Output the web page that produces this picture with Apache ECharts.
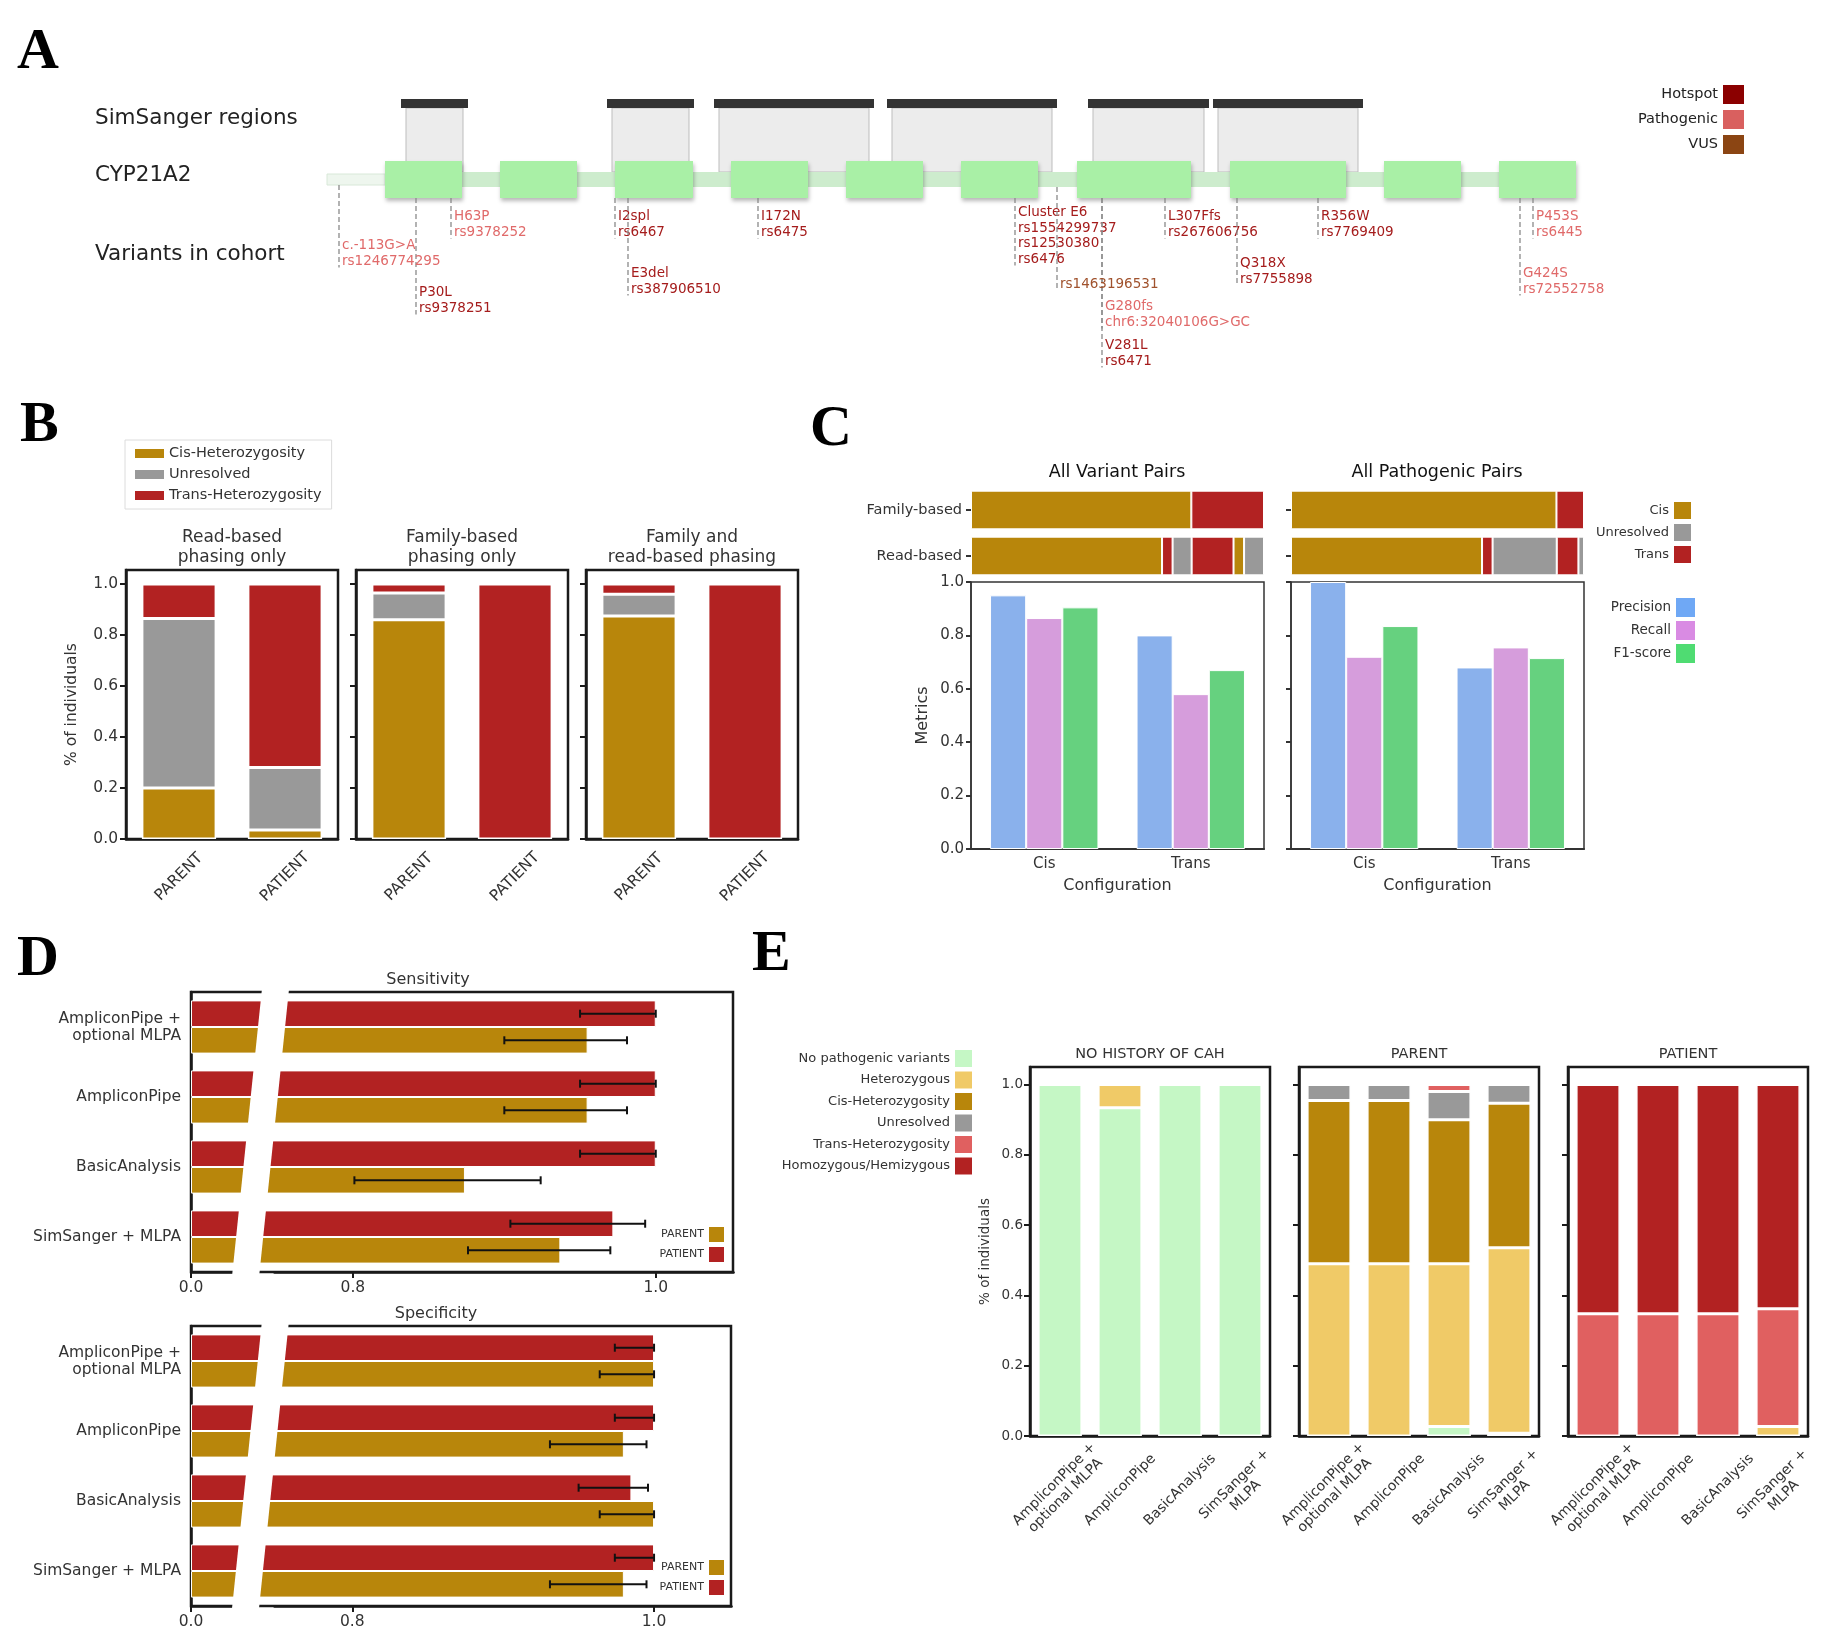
<!DOCTYPE html>
<html>
<head>
<meta charset="utf-8">
<script src="https://cdn.jsdelivr.net/npm/echarts@6/dist/echarts.min.js"></script>
<style>
html, body { margin: 0; padding: 0; background: #fff; }
#chart { width: 1825px; height: 1643px; }
</style>
</head>
<body>
<div id="chart"></div>
<script>
// ---------- data ----------
// A: CYP21A2 gene model, positions in plot units along the gene
const exonStarts = [58, 173, 288, 404, 519, 634, 750, 903, 1057, 1172];
const exonEnds = [135, 250, 366, 481, 596, 711, 864, 1019, 1134, 1249];
const utrStart = 0;
const simSangerStarts = [74, 280, 387, 560, 761, 886];
const simSangerEnds = [141, 367, 547, 730, 882, 1036];
const variantLabels = [
  'c.-113G>A\nrs1246774295', 'P30L\nrs9378251', 'H63P\nrs9378252', 'I2spl\nrs6467',
  'E3del\nrs387906510', 'I172N\nrs6475', 'Cluster E6\nrs1554299737\nrs12530380\nrs6476',
  'rs1463196531', 'G280fs\nchr6:32040106G>GC', 'V281L\nrs6471', 'L307Ffs\nrs267606756',
  'Q318X\nrs7755898', 'R356W\nrs7769409', 'P453S\nrs6445', 'G424S\nrs72552758'
];
const variantPos = [12, 89, 124, 288, 301, 431, 688, 730, 775, 775, 838, 910, 991, 1206, 1193];
const variantClass = ['Pathogenic', 'Hotspot', 'Pathogenic', 'Hotspot', 'Hotspot', 'Hotspot', 'Hotspot',
  'VUS', 'Pathogenic', 'Hotspot', 'Hotspot', 'Hotspot', 'Hotspot', 'Pathogenic', 'Pathogenic'];
const variantClasses = ['Hotspot', 'Pathogenic', 'VUS'];

// B: phasing outcome
const bPanels = ['Read-based\nphasing only', 'Family-based\nphasing only', 'Family and\nread-based phasing'];
const bGroups = ['PARENT', 'PATIENT'];
const bCis = [[0.20, 0.035], [0.86, 0], [0.875, 0]];
const bUnresolved = [[0.665, 0.245], [0.105, 0], [0.085, 0]];
const bTrans = [[0.135, 0.72], [0.035, 1.0], [0.04, 1.0]];

// C: phasing accuracy
const cPanels = ['All Variant Pairs', 'All Pathogenic Pairs'];
const cRows = ['Read-based', 'Family-based'];
const cReadClass = [['Cis', 'Trans', 'Unresolved', 'Trans', 'Cis', 'Unresolved'],
                    ['Cis', 'Trans', 'Unresolved', 'Trans', 'Unresolved']];
const cReadShare = [[0.652, 0.036, 0.065, 0.143, 0.036, 0.068],
                    [0.652, 0.036, 0.219, 0.074, 0.019]];
const cFamilyShare = [[0.752, 0.248], [0.906, 0.094]];
const cConfigs = ['Cis', 'Trans'];
const cPrecision = [[0.95, 0.80], [1.0, 0.68]];
const cRecall = [[0.865, 0.58], [0.72, 0.755]];
const cF1 = [[0.905, 0.67], [0.835, 0.715]];

// D: sensitivity / specificity
const dMethods = ['AmpliconPipe +\noptional MLPA', 'AmpliconPipe', 'BasicAnalysis', 'SimSanger + MLPA'];
const sensPatient = [1.0, 1.0, 1.0, 0.972];
const sensPatientLow = [0.95, 0.95, 0.95, 0.904];
const sensPatientHigh = [1.0, 1.0, 1.0, 0.993];
const sensParent = [0.955, 0.955, 0.874, 0.937];
const sensParentLow = [0.900, 0.900, 0.801, 0.876];
const sensParentHigh = [0.981, 0.981, 0.924, 0.970];
const specPatient = [1.0, 1.0, 0.985, 1.0];
const specPatientLow = [0.974, 0.974, 0.950, 0.974];
const specPatientHigh = [1.0, 1.0, 0.996, 1.0];
const specParent = [1.0, 0.980, 1.0, 0.980];
const specParentLow = [0.964, 0.931, 0.964, 0.931];
const specParentHigh = [1.0, 0.995, 1.0, 0.995];
const dTicks = [0, 0.8, 1.0];
const dBreak = [0.037, 0.748];

// E: genotype per cohort
const eMethods = ['AmpliconPipe +\noptional MLPA', 'AmpliconPipe', 'BasicAnalysis', 'SimSanger +\nMLPA'];
const eGroups = ['NO HISTORY OF CAH', 'PARENT', 'PATIENT'];
const eNoPathogenic = [[1, 0.934, 1, 1], [0, 0, 0.027, 0.008], [0, 0, 0, 0]];
const eHeterozygous = [[0, 0.066, 0, 0], [0.49, 0.49, 0.463, 0.528], [0, 0, 0, 0.027]];
const eCisHet = [[0, 0, 0, 0], [0.465, 0.465, 0.41, 0.411], [0, 0, 0, 0]];
const eUnresolved = [[0, 0, 0, 0], [0.045, 0.045, 0.08, 0.053], [0, 0, 0, 0]];
const eTransHet = [[0, 0, 0, 0], [0, 0, 0.02, 0], [0.348, 0.348, 0.348, 0.335]];
const eHomozygous = [[0, 0, 0, 0], [0, 0, 0, 0], [0.652, 0.652, 0.652, 0.638]];
const pctTicks = [0, 0.2, 0.4, 0.6, 0.8, 1.0];

// ---------- styling ----------
const FONT = '"DejaVu Sans", sans-serif';
const INK = '#222';
const CIS = '#b8860b', UNRES = '#999999', TRANS = '#b22222';
const classColor = { Hotspot: '#8b0000', Pathogenic: '#d9605f', VUS: '#8b4513' };
const classText = { Hotspot: '#a51c1c', Pathogenic: '#e06a6a', VUS: '#a0522d' };
const cColor = { Cis: CIS, Unresolved: UNRES, Trans: TRANS };
const eNames = ['No pathogenic variants', 'Heterozygous', 'Cis-Heterozygosity', 'Unresolved', 'Trans-Heterozygosity', 'Homozygous/Hemizygous'];
const eColors = ['#c5f7c5', '#f0ca67', CIS, UNRES, '#e06060', TRANS];
const eValues = [eNoPathogenic, eHeterozygous, eCisHet, eUnresolved, eTransHet, eHomozygous];

const grids = [], xAxes = [], yAxes = [], series = [], legends = [], graphics = [];
const dash = v => (v ? v : '-');

function addGrid(g) {
  grids.push(g);
  return grids.length - 1;
}
function text(x, y, str, size, opt) {
  opt = opt || {};
  return {
    type: 'text', x: x, y: y, rotation: opt.rot || 0, silent: true, z: 50,
    style: {
      text: str, fontSize: size, fontFamily: opt.family || FONT, fontWeight: opt.weight || 'normal',
      fill: opt.color || INK, align: opt.align || 'center', verticalAlign: opt.va || 'middle',
      lineHeight: opt.lh || Math.round(size * 1.15)
    }
  };
}
function frame(extra) {
  return Object.assign({ show: true, borderColor: '#1a1a1a', borderWidth: 2.5, backgroundColor: 'transparent' }, extra);
}
const tickStyle = { color: '#1a1a1a', width: 2 };

// panel letters
[['A', 17, 20], ['B', 20, 393], ['C', 810, 397], ['D', 17, 927], ['E', 752, 922]].forEach(p => {
  graphics.push(text(p[1], p[2], p[0], 58, { family: '"Liberation Serif", "DejaVu Serif", serif', weight: 'bold', align: 'left', va: 'top', color: '#000' }));
});

// ---------- A ----------
const gA = addGrid({ left: 327, top: 80, width: 1250, height: 300, show: false });
xAxes.push({ type: 'value', gridIndex: gA, min: 0, max: 1250, show: false });
yAxes.push({ type: 'value', gridIndex: gA, min: 80, max: 380, inverse: true, show: false });
const A = { barTop: 99, barBottom: 108, boxBottom: 172, exonTop: 161, exonBottom: 198, lineTop: 172, lineBottom: 187, utrTop: 174, utrBottom: 185 };
const labelDepth = [246, 293, 217, 217, 274, 217, 213, 285, 307, 346, 217, 264, 217, 217, 274];

graphics.push(text(95, 118, 'SimSanger regions', 21.5, { align: 'left' }));
graphics.push(text(95, 175, 'CYP21A2', 21.5, { align: 'left' }));
graphics.push(text(95, 254, 'Variants in cohort', 21.5, { align: 'left' }));

series.push({
  type: 'custom', name: 'SimSanger regions', xAxisIndex: gA, yAxisIndex: gA, z: 1, silent: true,
  data: simSangerStarts.map((s, i) => [s, simSangerEnds[i]]),
  encode: { x: [0, 1] },
  renderItem: (params, api) => {
    const p0 = api.coord([api.value(0), A.barTop]);
    const p1 = api.coord([api.value(1), A.barBottom]);
    const yb = api.coord([0, A.boxBottom])[1];
    return {
      type: 'group', children: [
        { type: 'rect', shape: { x: p0[0] + 5, y: p1[1], width: p1[0] - p0[0] - 10, height: yb - p1[1] }, style: { fill: '#ececec', stroke: '#bdbdbd', lineWidth: 1 } },
        { type: 'rect', shape: { x: p0[0], y: p0[1], width: p1[0] - p0[0], height: p1[1] - p0[1] }, style: { fill: '#333' } }
      ]
    };
  }
});
series.push({
  type: 'custom', name: 'gene', xAxisIndex: gA, yAxisIndex: gA, z: 2, silent: true,
  data: [[utrStart, exonStarts[0], exonEnds[exonEnds.length - 1]]],
  encode: { x: [0, 1, 2] },
  renderItem: (params, api) => {
    const u0 = api.coord([api.value(0), A.utrTop]);
    const u1 = api.coord([api.value(1), A.utrBottom]);
    const b0 = api.coord([api.value(1), A.lineTop]);
    const b1 = api.coord([api.value(2), A.lineBottom]);
    return {
      type: 'group', children: [
        { type: 'rect', shape: { x: u0[0], y: u0[1], width: u1[0] - u0[0], height: u1[1] - u0[1] }, style: { fill: '#eef6ee', stroke: '#d8e8d8', lineWidth: 1 } },
        { type: 'rect', shape: { x: b0[0], y: b0[1], width: b1[0] - b0[0], height: b1[1] - b0[1] }, style: { fill: '#cdeccd' } }
      ]
    };
  }
});
series.push({
  type: 'custom', name: 'exons', xAxisIndex: gA, yAxisIndex: gA, z: 3, silent: true,
  data: exonStarts.map((s, i) => [s, exonEnds[i]]),
  encode: { x: [0, 1] },
  renderItem: (params, api) => {
    const p0 = api.coord([api.value(0), A.exonTop]);
    const p1 = api.coord([api.value(1), A.exonBottom]);
    return {
      type: 'rect', shape: { x: p0[0], y: p0[1], width: p1[0] - p0[0], height: p1[1] - p0[1] },
      style: { fill: '#a9f0a6', shadowBlur: 4, shadowOffsetX: 1, shadowOffsetY: 3, shadowColor: 'rgba(0,0,0,0.28)' }
    };
  }
});
function inExon(x) {
  return exonStarts.some((s, i) => x >= s && x <= exonEnds[i]);
}
variantClasses.forEach(cls => {
  const idx = variantPos.map((p, i) => i).filter(i => variantClass[i] === cls);
  series.push({
    type: 'custom', name: cls, xAxisIndex: gA, yAxisIndex: gA, z: 4, silent: true,
    itemStyle: { color: classColor[cls] },
    data: idx.map(i => [variantPos[i], labelDepth[i], i]),
    encode: { x: 0, y: 1 },
    renderItem: (params, api) => {
      const i = api.value(2);
      const x = api.coord([api.value(0), 0])[0];
      const yTop = api.coord([0, inExon(variantPos[i]) ? A.exonBottom : (variantPos[i] < exonStarts[0] ? A.utrBottom : A.lineBottom)])[1];
      const yLab = api.coord([0, api.value(1)])[1];
      const n = variantLabels[i].split('\n').length;
      return {
        type: 'group', children: [
          { type: 'line', shape: { x1: x, y1: yTop, x2: x, y2: yLab + (n - 1) * 15.5 + 6 }, style: { stroke: '#8a8a8a', lineWidth: 1.3, lineDash: [5, 3] } },
          { type: 'text', x: x + 3, y: yLab - 8, style: { text: variantLabels[i], fill: classText[cls], fontSize: 13.5, fontFamily: FONT, lineHeight: 15.5, verticalAlign: 'top', align: 'left' } }
        ]
      };
    }
  });
});
legends.push({
  right: 81, top: 85, orient: 'vertical', align: 'right', padding: 0, itemWidth: 21, itemHeight: 19, itemGap: 6,
  icon: 'rect', selectedMode: false, textStyle: { fontSize: 14.5, color: INK, fontFamily: FONT },
  data: variantClasses.map(c => ({ name: c, itemStyle: { color: classColor[c], borderWidth: 0 } }))
});

// ---------- B ----------
const bLefts = [126, 356, 586];
bPanels.forEach((title, k) => {
  const gi = addGrid(frame({ left: bLefts[k], top: 570, width: 212, height: 269 }));
  xAxes.push({
    type: 'category', gridIndex: gi, data: bGroups,
    axisLine: { lineStyle: { color: '#1a1a1a', width: 2.5 } },
    axisTick: { alignWithLabel: true, length: 6, lineStyle: tickStyle },
    axisLabel: { rotate: 45, align: 'center', verticalAlign: 'middle', fontSize: 15.5, color: '#333', margin: 38, fontFamily: FONT }
  });
  yAxes.push({
    type: 'value', gridIndex: gi, min: 0, max: 1.055,
    name: k === 0 ? '% of individuals' : '', nameLocation: 'middle', nameGap: 46,
    nameTextStyle: { fontSize: 15.5, color: '#333', fontFamily: FONT },
    axisLine: { show: true, lineStyle: { color: '#1a1a1a', width: 2.5 } },
    axisTick: { show: true, customValues: pctTicks, length: 6, lineStyle: tickStyle },
    axisLabel: { show: k === 0, customValues: pctTicks, formatter: v => v.toFixed(1), fontSize: 15.5, color: '#333', fontFamily: FONT, margin: 8 },
    splitLine: { show: false }
  });
  graphics.push(text(bLefts[k] + 106, 548, title, 17, { lh: 20, color: '#333' }));
  [['Cis-Heterozygosity', bCis, CIS], ['Unresolved', bUnresolved, UNRES], ['Trans-Heterozygosity', bTrans, TRANS]].forEach(s => {
    series.push({
      type: 'bar', name: s[0], xAxisIndex: gi, yAxisIndex: gi, stack: 'b' + k, barCategoryGap: '30%',
      data: s[1][k].map(dash), itemStyle: { color: s[2], borderColor: '#fff', borderWidth: 1.5 }, silent: true
    });
  });
});
legends.push({
  left: 125, top: 440, orient: 'vertical', align: 'left', padding: [6, 10, 6, 10], itemWidth: 29, itemHeight: 9, itemGap: 6,
  borderColor: '#dcdcdc', borderWidth: 1, icon: 'rect', selectedMode: false,
  textStyle: { fontSize: 14.5, color: '#333', fontFamily: FONT },
  data: [['Cis-Heterozygosity', CIS], ['Unresolved', UNRES], ['Trans-Heterozygosity', TRANS]].map(d => ({ name: d[0], itemStyle: { color: d[1], borderWidth: 0 } }))
});

// ---------- C ----------
const cLefts = [971, 1291];
cPanels.forEach((title, k) => {
  graphics.push(text(cLefts[k] + 146, 472, title, 17.5, { color: '#111' }));
  const gt = addGrid({ left: cLefts[k], top: 487, width: 293, height: 92, show: false });
  xAxes.push({ type: 'value', gridIndex: gt, min: 0, max: 1, show: false });
  yAxes.push({
    type: 'category', gridIndex: gt, data: cRows, axisLine: { show: false },
    axisTick: { show: true, alignWithLabel: true, length: 5, lineStyle: { color: '#333', width: 2 } },
    axisLabel: { show: k === 0, fontSize: 14.5, color: '#333', fontFamily: FONT, margin: 9 }
  });
  cReadClass[k].forEach((cls, j) => {
    series.push({
      type: 'bar', name: cls, xAxisIndex: gt, yAxisIndex: gt, stack: 'c' + k, barCategoryGap: '16%', silent: true,
      data: [cReadShare[k][j], j < cFamilyShare[k].length ? cFamilyShare[k][j] : '-'],
      itemStyle: { color: cColor[cls], borderColor: '#fff', borderWidth: 1 }
    });
  });
  const gm = addGrid({ left: cLefts[k], top: 582, width: 293, height: 267, show: true, borderColor: '#333', borderWidth: 1.5 });
  xAxes.push({
    type: 'category', gridIndex: gm, data: cConfigs, name: 'Configuration', nameLocation: 'middle', nameGap: 29,
    nameTextStyle: { fontSize: 16, color: '#333', fontFamily: FONT },
    axisLine: { lineStyle: { color: '#333', width: 2 } },
    axisTick: { alignWithLabel: true, length: 5, lineStyle: { color: '#333', width: 2 } },
    axisLabel: { fontSize: 15, color: '#333', fontFamily: FONT, margin: 8 }
  });
  yAxes.push({
    type: 'value', gridIndex: gm, min: 0, max: 1, interval: 0.2,
    name: k === 0 ? 'Metrics' : '', nameLocation: 'middle', nameGap: 40,
    nameTextStyle: { fontSize: 16, color: '#333', fontFamily: FONT },
    axisLine: { show: true, lineStyle: { color: '#333', width: 1.5 } },
    axisTick: { show: true, length: 5, lineStyle: { color: '#333', width: 2 } },
    axisLabel: { show: k === 0, formatter: v => v.toFixed(1), fontSize: 15, color: '#333', fontFamily: FONT, margin: 7 },
    splitLine: { show: false }
  });
  [['Precision', cPrecision, '#8ab1ec'], ['Recall', cRecall, '#d69ddc'], ['F1-score', cF1, '#66d17f']].forEach(s => {
    series.push({
      type: 'bar', name: s[0], xAxisIndex: gm, yAxisIndex: gm, barGap: '0%', barCategoryGap: '26%', silent: true,
      data: s[1][k], itemStyle: { color: s[2], borderColor: '#fff', borderWidth: 1 }
    });
  });
});
legends.push({
  right: 134, top: 502, orient: 'vertical', align: 'right', padding: 0, itemWidth: 17, itemHeight: 17, itemGap: 5,
  icon: 'rect', selectedMode: false, textStyle: { fontSize: 13, color: '#333', fontFamily: FONT },
  data: ['Cis', 'Unresolved', 'Trans'].map(n => ({ name: n, itemStyle: { color: cColor[n], borderWidth: 0 } }))
});
legends.push({
  right: 130, top: 598, orient: 'vertical', align: 'right', padding: 0, itemWidth: 19, itemHeight: 19, itemGap: 4,
  icon: 'rect', selectedMode: false, textStyle: { fontSize: 13.5, color: '#333', fontFamily: FONT },
  data: [['Precision', '#6fa8f5'], ['Recall', '#d98be3'], ['F1-score', '#4fdc72']].map(d => ({ name: d[0], itemStyle: { color: d[1], borderWidth: 0 } }))
});

// ---------- D ----------
[
  ['Sensitivity', 992, 542, sensPatient, sensPatientLow, sensPatientHigh, sensParent, sensParentLow, sensParentHigh, 1227, 428],
  ['Specificity', 1326, 540, specPatient, specPatientLow, specPatientHigh, specParent, specParentLow, specParentHigh, 1560, 436]
].forEach(d => {
  const gi = addGrid(frame({ left: 191, top: d[1], width: d[2], height: 280 }));
  graphics.push(text(d[10], d[1] - 12, d[0], 16, { color: '#333' }));
  xAxes.push({
    type: 'value', gridIndex: gi, min: 0, max: 1.051,
    breaks: [{ start: dBreak[0], end: dBreak[1], gap: '5%' }],
    breakArea: { show: false, expandOnClick: false },
    axisLine: { show: true, lineStyle: { color: '#1a1a1a', width: 2.5 } },
    axisTick: { show: true, customValues: dTicks, length: 6, lineStyle: tickStyle },
    axisLabel: { customValues: dTicks, formatter: v => v.toFixed(1), fontSize: 15.5, color: '#333', fontFamily: FONT, margin: 8 },
    splitLine: { show: false }
  });
  yAxes.push({
    type: 'category', gridIndex: gi, data: dMethods, inverse: true,
    axisLine: { show: true, lineStyle: { color: '#1a1a1a', width: 2.5 } },
    axisTick: { alignWithLabel: true, length: 6, lineStyle: { color: '#1a1a1a', width: 2.5 } },
    axisLabel: { fontSize: 15.5, color: '#333', fontFamily: FONT, margin: 10, lineHeight: 17 }
  });
  [['PATIENT', d[3], d[4], d[5], TRANS, -1], ['PARENT', d[6], d[7], d[8], CIS, 1]].forEach(s => {
    series.push({
      type: 'bar', name: s[0], xAxisIndex: gi, yAxisIndex: gi, barGap: '0%', barCategoryGap: '24%', silent: true,
      data: s[1], itemStyle: { color: s[4], borderColor: '#fff', borderWidth: 1 }
    });
    series.push({
      type: 'custom', name: s[0] + ' error', xAxisIndex: gi, yAxisIndex: gi, z: 12, silent: true,
      data: s[2].map((lo, i) => [lo, i, s[3][i]]),
      encode: { x: [0, 2], y: 1 },
      renderItem: (params, api) => {
        const band = api.size([0, 1])[1];
        const a = api.coord([api.value(0), api.value(1)]);
        const b = api.coord([api.value(2), api.value(1)]);
        const y = a[1] + s[5] * band * 0.19;
        const st = { stroke: '#111', lineWidth: 2 };
        return {
          type: 'group', children: [
            { type: 'line', shape: { x1: a[0], y1: y, x2: b[0], y2: y }, style: st },
            { type: 'line', shape: { x1: a[0], y1: y - 4, x2: a[0], y2: y + 4 }, style: st },
            { type: 'line', shape: { x1: b[0], y1: y - 4, x2: b[0], y2: y + 4 }, style: st }
          ]
        };
      }
    });
  });
  // slanted white cut over the broken part of the axis
  series.push({
    type: 'custom', name: 'axis break', xAxisIndex: gi, yAxisIndex: gi, z: 10, silent: true,
    data: [[dBreak[0], dBreak[1]]],
    encode: { x: [0, 1] },
    renderItem: (params, api) => {
      const r = params.coordSys;
      const x0 = api.coord([api.value(0), 0])[0];
      const x1 = api.coord([api.value(1), 0])[0];
      const s = 15, t = r.y - 4, b = r.y + r.height + 4;
      return { type: 'polygon', shape: { points: [[x0 + s, t], [x1 + s, t], [x1 - s, b], [x0 - s, b]] }, style: { fill: '#fff' } };
    }
  });
  legends.push({
    right: 1101, top: d[9], orient: 'vertical', align: 'right', padding: 0, itemWidth: 15, itemHeight: 15, itemGap: 5,
    icon: 'rect', selectedMode: false, textStyle: { fontSize: 11, color: '#333', fontFamily: FONT },
    data: [['PARENT', CIS], ['PATIENT', TRANS]].map(p => ({ name: p[0], itemStyle: { color: p[1], borderWidth: 0 } }))
  });
});

// ---------- E ----------
const eLefts = [1030, 1299, 1568];
eGroups.forEach((title, k) => {
  const gi = addGrid(frame({ left: eLefts[k], top: 1067, width: 240, height: 369 }));
  graphics.push(text(eLefts[k] + 120, 1054, title, 14.5, { color: '#333' }));
  xAxes.push({
    type: 'category', gridIndex: gi, data: eMethods,
    axisLine: { lineStyle: { color: '#1a1a1a', width: 2.5 } },
    axisTick: { alignWithLabel: true, length: 6, lineStyle: tickStyle },
    axisLabel: { interval: 0, rotate: 45, align: 'center', verticalAlign: 'middle', fontSize: 14, color: '#333', fontFamily: FONT, margin: 54, lineHeight: 16 }
  });
  yAxes.push({
    type: 'value', gridIndex: gi, min: 0, max: 1.05,
    name: k === 0 ? '% of individuals' : '', nameLocation: 'middle', nameGap: 38,
    nameTextStyle: { fontSize: 13.5, color: '#333', fontFamily: FONT },
    axisLine: { show: true, lineStyle: { color: '#1a1a1a', width: 2.5 } },
    axisTick: { show: true, customValues: pctTicks, length: 6, lineStyle: tickStyle },
    axisLabel: { show: k === 0, customValues: pctTicks, formatter: v => v.toFixed(1), fontSize: 13.5, color: '#333', fontFamily: FONT, margin: 7 },
    splitLine: { show: false }
  });
  eNames.forEach((n, j) => {
    series.push({
      type: 'bar', name: n, xAxisIndex: gi, yAxisIndex: gi, stack: 'e' + k, barCategoryGap: '27%', silent: true,
      data: eValues[j][k].map(dash), itemStyle: { color: eColors[j], borderColor: '#fff', borderWidth: 1.5 }
    });
  });
});
legends.push({
  right: 853, top: 1050, orient: 'vertical', align: 'right', padding: 0, itemWidth: 17, itemHeight: 17, itemGap: 4.5,
  icon: 'rect', selectedMode: false, textStyle: { fontSize: 13, color: '#333', fontFamily: FONT },
  data: eNames.map((n, j) => ({ name: n, itemStyle: { color: eColors[j], borderWidth: 0 } }))
});

// ---------- chart ----------
const chart = echarts.init(document.getElementById('chart'), null, { renderer: 'canvas' });
chart.setOption({
  backgroundColor: '#fff',
  animation: false,
  textStyle: { fontFamily: FONT },
  grid: grids,
  xAxis: xAxes,
  yAxis: yAxes,
  legend: legends,
  series: series,
  graphic: graphics
});
window.addEventListener('resize', () => chart.resize());
</script>
</body>
</html>
